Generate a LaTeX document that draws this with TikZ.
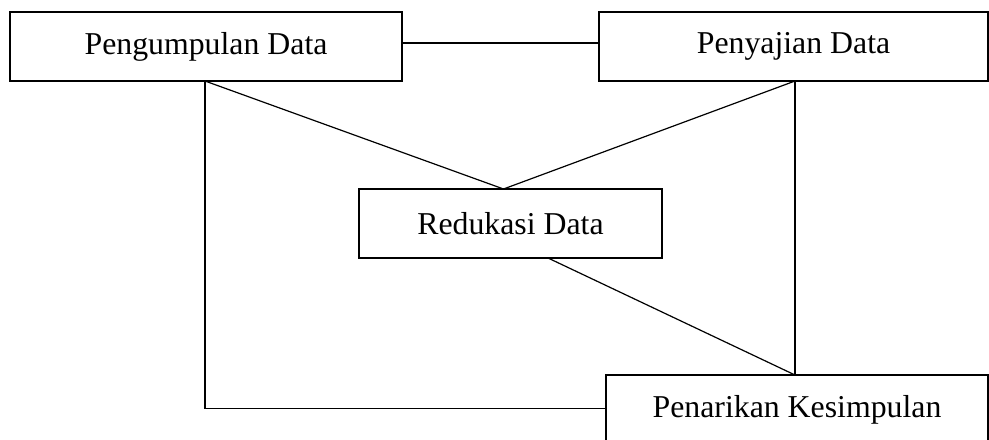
\documentclass[tikz,border=0pt]{standalone}
\usepackage{fontspec}
\setmainfont{Liberation Serif}
\begin{document}
\begin{tikzpicture}[x=0.5pt,y=-0.5pt,
  box/.style={draw,line width=0.65pt,rectangle,inner sep=0pt,outer sep=0pt,minimum height=34.5pt,font=\fontsize{15.9pt}{19pt}\selectfont},
  link/.style={line width=0.6pt}]
\useasboundingbox (0,0) rectangle (989,439);
\node[box,minimum width=196pt] (b1) at (206,46.5) {Pengumpulan Data};
\node[box,minimum width=194.5pt] (b2) at (793.5,46.5) {Penyajian Data};
\node[box,minimum width=151.5pt] (b3) at (510.5,223.5) {Redukasi Data};
\node[box,minimum width=191pt] (b4) at (797,409.5) {Penarikan Kesimpulan};
\coordinate (b2s) at ([xshift=0.75pt]b2.south);
\coordinate (b3n) at ([xshift=-3.5pt]b3.north);
\draw[link] ([yshift=1.75pt]b1.east) -- ([yshift=1.75pt]b2.west);
\draw[link] ([xshift=-0.5pt]b1.south) -- (b3n);
\draw[link] (b2s) -- (b3n);
\draw[link] (b2s) -- (b2s |- b4.north);
\draw[link] ([xshift=18.75pt]b3.south) -- (b2s |- b4.north);
\draw[link] ([xshift=-0.5pt]b1.south) |- ([yshift=0.5pt]b4.west);
\end{tikzpicture}
\end{document}
